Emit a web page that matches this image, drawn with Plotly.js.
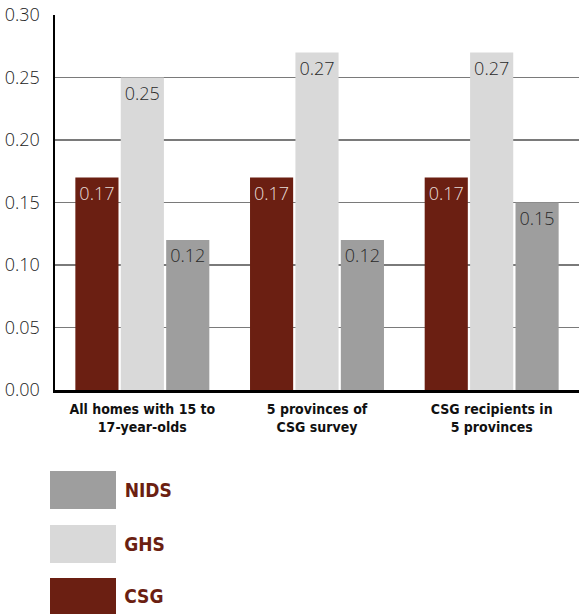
<!DOCTYPE html>
<html>
<head>
<meta charset="utf-8">
<script src="https://cdn.plot.ly/plotly-3.0.1.min.js"></script>
<style>
html,body{margin:0;padding:0;background:#fff;}
#chart{width:579px;height:614px;}
#chart .xtick text, #chart .annotation-text{font-stretch:condensed !important;}
</style>
</head>
<body>
<div id="chart"></div>
<script>
var categories = ["All homes with 15 to<br>17-year-olds", "5 provinces of<br>CSG survey", "CSG recipients in<br>5 provinces"];
var seriesNames = ["CSG", "GHS", "NIDS"];
var csgValues = [0.17, 0.17, 0.17];
var ghsValues = [0.25, 0.27, 0.27];
var nidsValues = [0.12, 0.12, 0.15];
var yTickVals = [0, 0.05, 0.10, 0.15, 0.20, 0.25, 0.30];
var yTickText = ["0.00", "0.05", "0.10", "0.15", "0.20", "0.25", "0.30"];
var legendOrder = ["NIDS", "GHS", "CSG"];

var colors = {CSG: "#6B1F12", GHS: "#D9D9D9", NIDS: "#9E9E9E"};
var textColors = {CSG: "#E6DCD8", GHS: "#2a2a2a", NIDS: "#2a2a2a"};
var valuesBySeries = {CSG: csgValues, GHS: ghsValues, NIDS: nidsValues};

var W = 579, H = 614, L = 55, R = 0, T = 15, B = 224;
var pw = W - L - R, ph = H - T - B;
function px2x(px) { return (px - L) / pw; }
function py2y(py) { return (H - B - py) / ph; }

var condensed = "DejaVu Sans, sans-serif";
var light = "Open Sans, Lato, sans-serif";

var traces = seriesNames.map(function (name) {
  var vals = valuesBySeries[name];
  return {
    type: "bar",
    name: name,
    x: categories,
    y: vals,
    marker: {color: colors[name], line: {width: 0}},
    text: vals.map(function (v) { return v.toFixed(2); }),
    textposition: "inside",
    insidetextanchor: "end",
    constraintext: "none",
    textangle: 0,
    insidetextfont: {family: light, size: 18, weight: 300, color: textColors[name]},
    hoverinfo: "none",
    showlegend: false,
    cliponaxis: false
  };
});

var shapes = [];
[0.10, 0.20].forEach(function (v) {
  shapes.push({type: "line", xref: "paper", yref: "y", x0: 0, x1: 1, y0: v, y1: v,
    line: {color: "#000", width: 1.5}, layer: "below"});
});

var annotations = [];
var legendBoxes = [[471, 509], [525, 563], [578, 614]];
legendOrder.forEach(function (name, i) {
  var b = legendBoxes[i];
  shapes.push({type: "rect", xref: "paper", yref: "paper",
    x0: px2x(50), x1: px2x(116), y0: py2y(b[1]), y1: py2y(b[0]),
    fillcolor: colors[name], line: {width: 0}, layer: "above"});
  annotations.push({xref: "paper", yref: "paper", x: px2x(120), y: py2y((b[0] + b[1]) / 2),
    xanchor: "left", yanchor: "middle", showarrow: false, text: name,
    font: {family: condensed, size: 19, weight: 700, color: "#6B1F12"}});
});

var layout = {
  width: W, height: H,
  margin: {l: L, r: R, t: T, b: B, pad: 0},
  paper_bgcolor: "#fff", plot_bgcolor: "#fff",
  barmode: "group",
  bargap: 0.22,
  bargroupgap: 0.05,
  showlegend: false,
  xaxis: {
    type: "category",
    showline: true, linecolor: "#000", linewidth: 3,
    ticks: "", showgrid: false,
    ticklabelstandoff: 4,
    tickfont: {family: condensed, size: 14, weight: 700, color: "#111"},
    fixedrange: true
  },
  yaxis: {
    range: [0, 0.30],
    tickvals: yTickVals, ticktext: yTickText,
    showline: true, linecolor: "#000", linewidth: 2.5,
    showgrid: true, gridcolor: "#7a7a7a", gridwidth: 1.5,
    zeroline: false,
    ticks: "", ticklen: 0,
    ticklabelstandoff: 9,
    tickfont: {family: light, size: 18, weight: 300, color: "#222"},
    fixedrange: true
  },
  shapes: shapes,
  annotations: annotations,
  font: {family: light}
};

Plotly.newPlot("chart", traces, layout, {displayModeBar: false, staticPlot: true});
</script>
</body>
</html>
